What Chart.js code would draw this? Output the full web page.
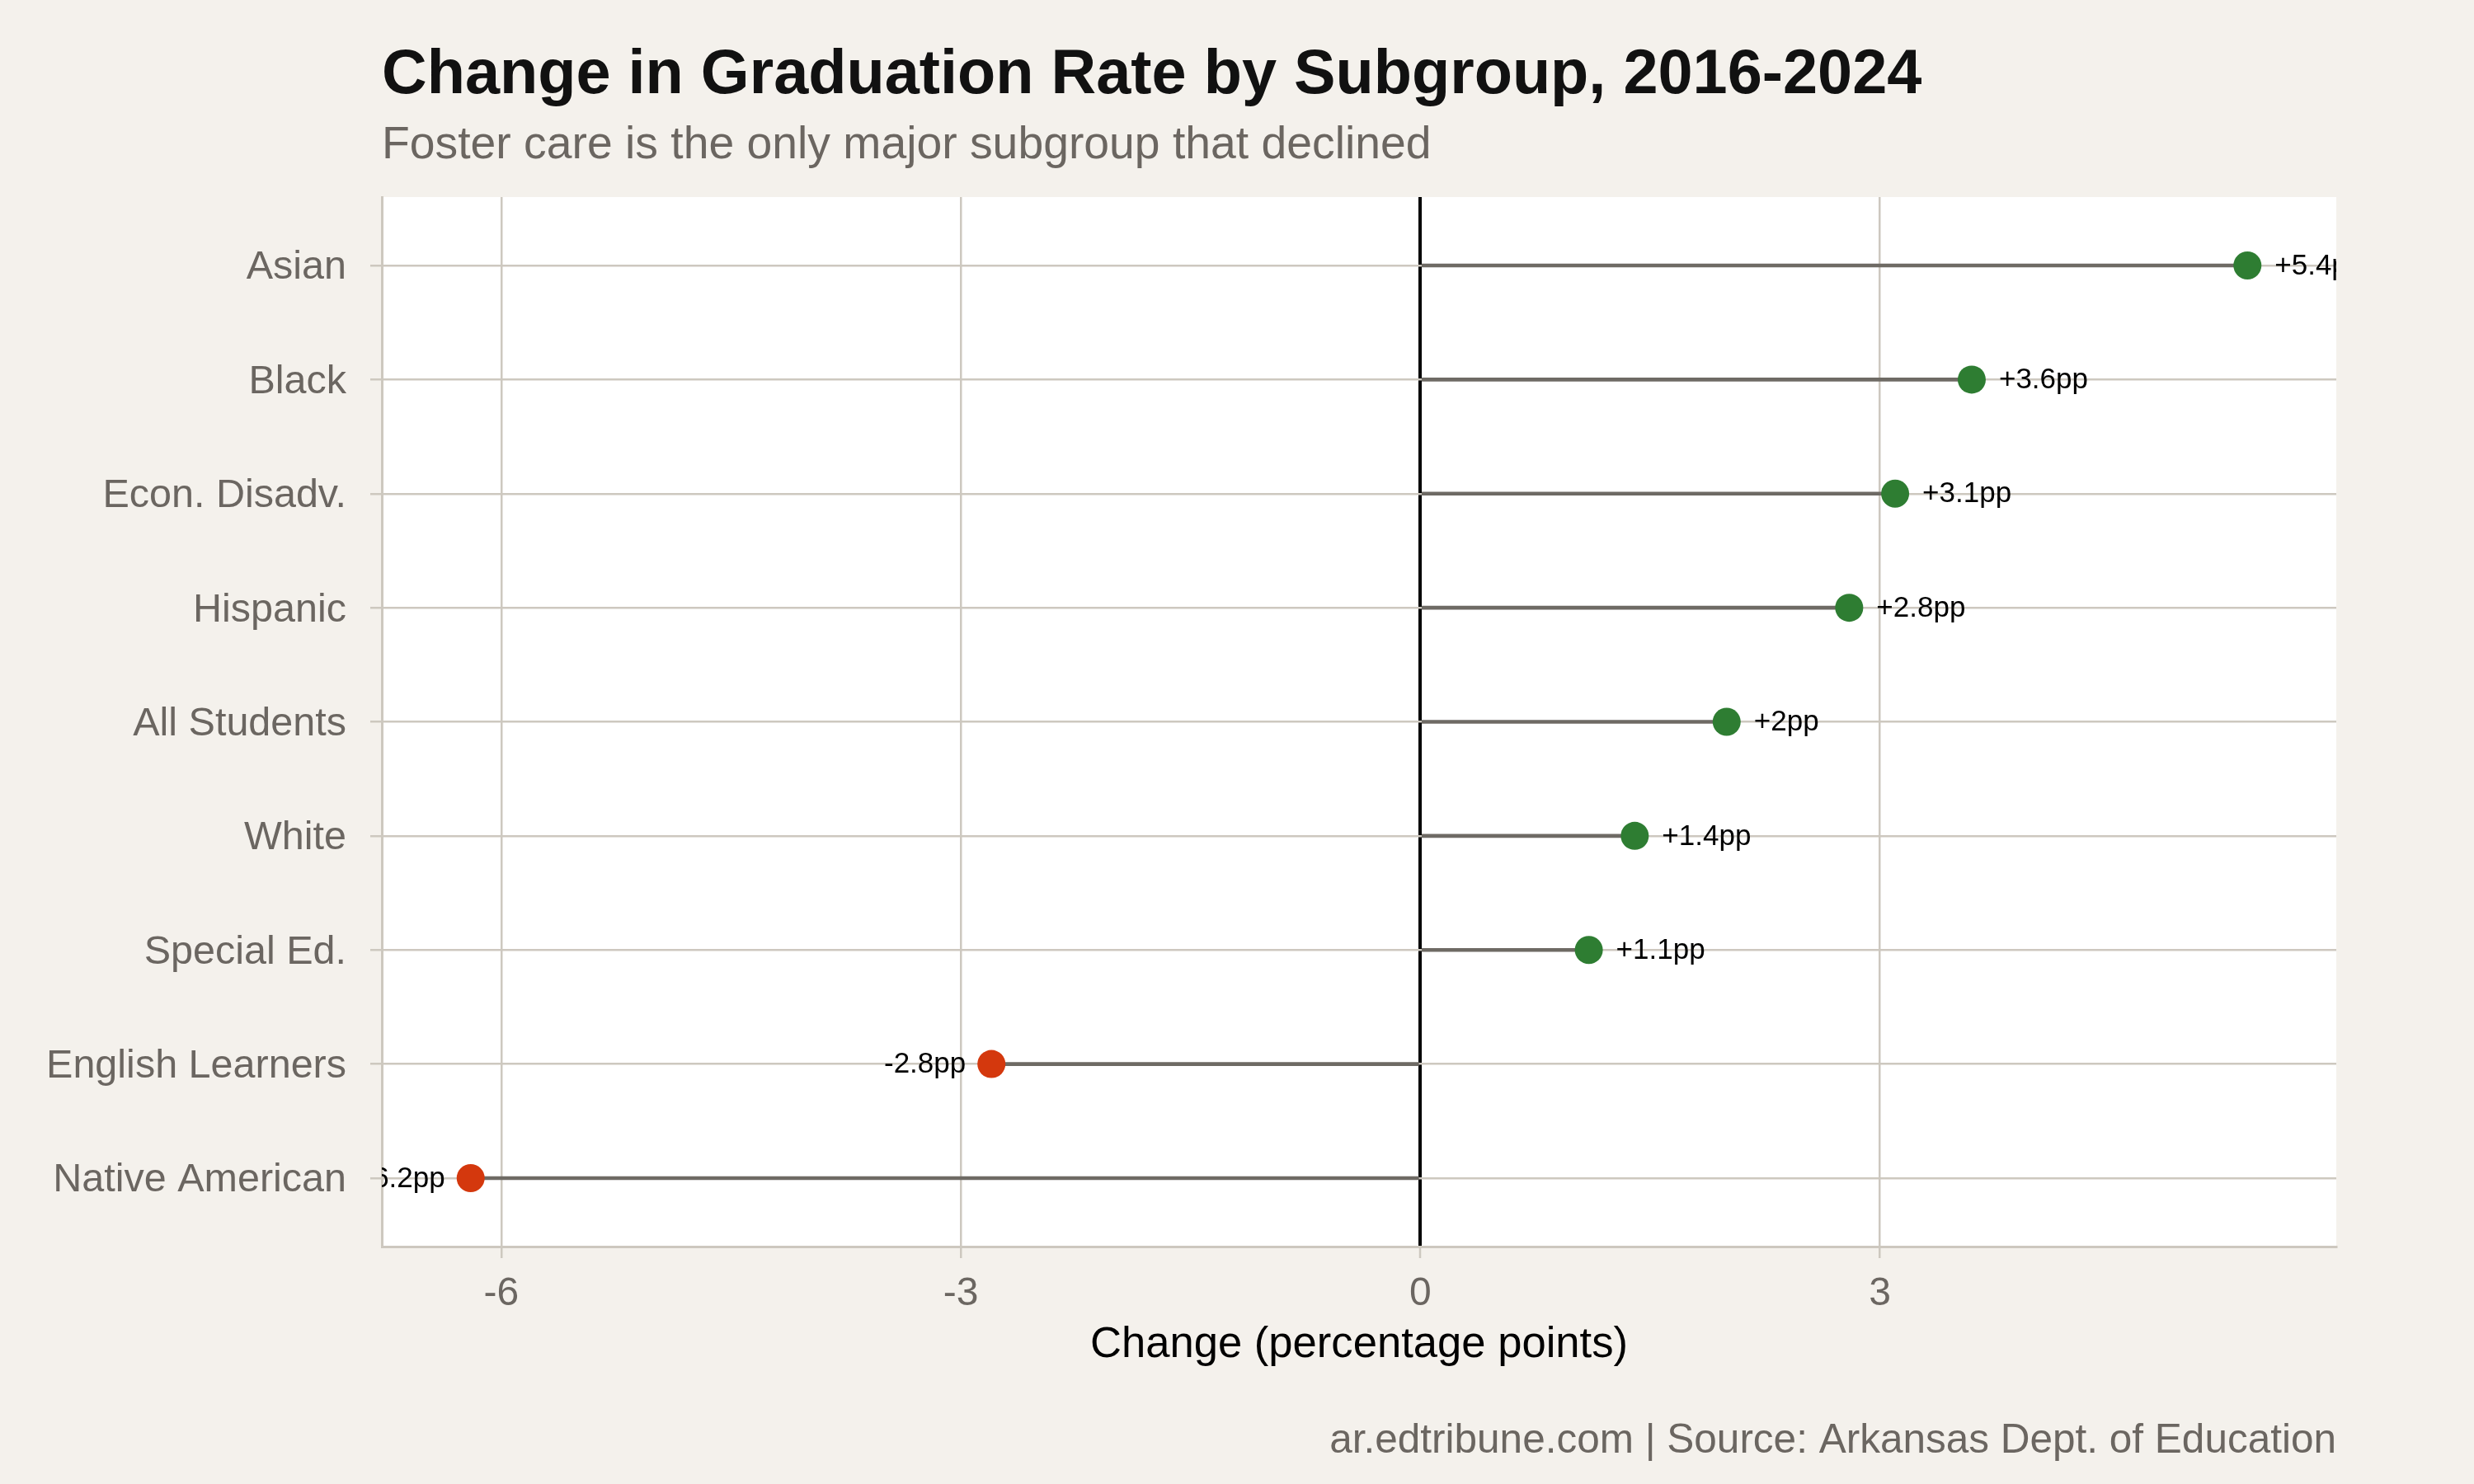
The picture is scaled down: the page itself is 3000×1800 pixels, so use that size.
<!DOCTYPE html>
<html>
<head>
<meta charset="utf-8">
<style>
  html, body { margin: 0; padding: 0; background: #f4f1ec; }
  canvas { display: block; }
</style>
<script src="https://cdn.jsdelivr.net/npm/chart.js@4"></script>
</head>
<body>
<canvas id="chart" width="3000" height="1800"></canvas>
<script>
// --- Data ---
const categories = ['Asian', 'Black', 'Econ. Disadv.', 'Hispanic', 'All Students', 'White', 'Special Ed.', 'English Learners', 'Native American'];
const changes = [5.4, 3.6, 3.1, 2.8, 2.0, 1.4, 1.1, -2.8, -6.2];
const xTicks = [-6, -3, 0, 3];

const titleText = 'Change in Graduation Rate by Subgroup, 2016-2024';
const subtitleText = 'Foster care is the only major subgroup that declined';
const captionText = 'ar.edtribune.com | Source: Arkansas Dept. of Education';
const xTitle = 'Change (percentage points)';

// --- Styles ---
const FONT = '"Liberation Sans", Arial, Helvetica, sans-serif';
const gridColor = '#cdc8bf';
const mutedText = '#6b6661';
const upColor = '#2e7d32';
const downColor = '#d4380d';
const stemColor = '#6e6a64';

// white panel + page background
const panelBg = {
  id: 'panelBg',
  beforeDraw(chart) {
    const { ctx, chartArea: a } = chart;
    ctx.save();
    ctx.fillStyle = '#f4f1ec';
    ctx.fillRect(0, 0, chart.width, chart.height);
    ctx.fillStyle = '#ffffff';
    ctx.fillRect(a.left, a.top, a.right - a.left, a.bottom - a.top);
    ctx.restore();
  }
};

// title, subtitle, caption aligned to the panel
const headings = {
  id: 'headings',
  afterDraw(chart) {
    const { ctx, chartArea: a } = chart;
    ctx.save();
    ctx.textBaseline = 'alphabetic';
    ctx.textAlign = 'left';
    ctx.fillStyle = '#111111';
    ctx.font = 'bold 75.7px ' + FONT;
    ctx.fillText(titleText, a.left, 113);
    ctx.fillStyle = mutedText;
    ctx.font = '55.3px ' + FONT;
    ctx.fillText(subtitleText, a.left, 192);
    ctx.textAlign = 'right';
    ctx.font = '49.5px ' + FONT;
    ctx.fillText(captionText, a.right, 1762);
    ctx.restore();
  }
};

// value labels next to each dot, clipped to the panel
const valueLabels = {
  id: 'valueLabels',
  afterDatasetsDraw(chart) {
    const { ctx, chartArea: a } = chart;
    const meta = chart.getDatasetMeta(1);
    ctx.save();
    ctx.beginPath();
    ctx.rect(a.left, a.top, a.right - a.left, a.bottom - a.top);
    ctx.clip();
    ctx.font = '35px ' + FONT;
    ctx.fillStyle = '#000000';
    ctx.textBaseline = 'middle';
    meta.data.forEach((pt, i) => {
      const v = changes[i];
      const txt = (v > 0 ? '+' : '') + v + 'pp';
      if (v >= 0) {
        ctx.textAlign = 'left';
        ctx.fillText(txt, pt.x + 33, pt.y + 1);
      } else {
        ctx.textAlign = 'right';
        ctx.fillText(txt, pt.x - 31, pt.y + 1);
      }
    });
    ctx.restore();
  }
};

const points = changes.map((v, i) => ({ x: v, y: i }));

new Chart(document.getElementById('chart'), {
  type: 'bar',
  data: {
    datasets: [
      {
        type: 'bar',
        data: points,
        backgroundColor: stemColor,
        borderWidth: 0,
        barThickness: 4,
        order: 2
      },
      {
        type: 'scatter',
        data: points,
        pointRadius: 17,
        pointHoverRadius: 17,
        pointBorderWidth: 0,
        pointBackgroundColor: changes.map(v => v >= 0 ? upColor : downColor),
        showLine: false,
        order: 1
      }
    ]
  },
  options: {
    indexAxis: 'y',
    responsive: false,
    animation: false,
    events: [],
    layout: { padding: { top: 239, right: 167, left: 0, bottom: 0 } },
    plugins: {
      legend: { display: false },
      tooltip: { enabled: false },
      title: { display: false }
    },
    scales: {
      x: {
        type: 'linear',
        min: -6.78,
        max: 5.98,
        afterBuildTicks: s => { s.ticks = xTicks.map(v => ({ value: v })); },
        afterFit: s => { s.height = 288; },
        grid: {
          color: c => c.tick && c.tick.value === 0 ? '#000000' : gridColor,
          lineWidth: c => c.tick && c.tick.value === 0 ? 4 : 2.5,
          tickColor: gridColor,
          tickWidth: 2.5,
          tickLength: 14,
          drawTicks: true
        },
        border: { display: true, color: gridColor, width: 3 },
        ticks: {
          color: mutedText,
          padding: 15,
          font: { family: FONT, size: 48, lineHeight: 1.2 },
          callback: v => String(v)
        },
        title: {
          display: true,
          text: xTitle,
          color: '#000000',
          font: { family: FONT, size: 52.6, lineHeight: 1.2 },
          padding: { top: 0, bottom: 137 }
        }
      },
      y: {
        type: 'linear',
        reverse: true,
        offset: false,
        min: -0.6,
        max: categories.length - 1 + 0.6,
        afterBuildTicks: s => { s.ticks = categories.map((_, i) => ({ value: i })); },
        afterFit: s => { s.width = 463; },
        grid: {
          offset: false,
          color: gridColor,
          lineWidth: 2.5,
          tickColor: gridColor,
          tickLength: 14,
          drawTicks: true
        },
        border: { display: true, color: gridColor, width: 3 },
        ticks: {
          color: mutedText,
          padding: 29,
          labelOffset: 3,
          font: { family: FONT, size: 48.5, lineHeight: 1.2 },
          callback: v => categories[v]
        }
      }
    }
  },
  plugins: [panelBg, valueLabels, headings]
});
</script>
</body>
</html>
